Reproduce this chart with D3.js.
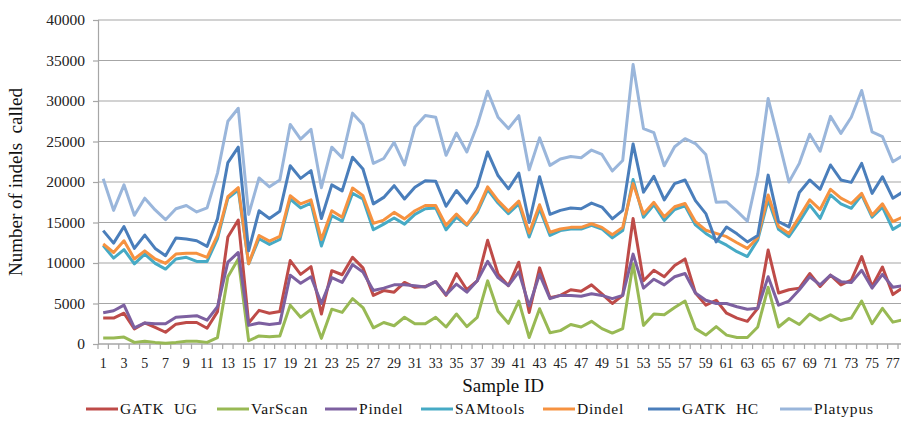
<!DOCTYPE html>
<html>
<head>
<meta charset="utf-8">
<script src="https://cdn.jsdelivr.net/npm/d3@7"></script>
<style>
  html, body { margin: 0; padding: 0; background: #fff; overflow: hidden; }
  svg { display: block; }
  svg text { font-family: "Liberation Serif", "Times New Roman", "DejaVu Serif", serif; }
</style>
</head>
<body>
<svg id="chart" width="901" height="425"></svg>
<script>
// Sample IDs 1..78
const samples = d3.range(1, 79);

const seriesNames = ["GATK  UG", "VarScan", "Pindel", "SAMtools", "Dindel", "GATK  HC", "Platypus"];
const seriesColors = ["#be4b48", "#98b954", "#7d60a0", "#46aac5", "#f69240", "#4a7ebb", "#9ab6db"];

const gatkUG = [3200,3200,3800,1850,2600,2050,1450,2450,2650,2650,1950,4000,13200,15300,2600,4150,3800,4000,10300,8600,
  9550,3700,9050,8550,10700,9400,6000,6600,6400,7600,7000,7100,7700,6000,8700,6700,7800,12800,8650,7200,
  10100,3900,9400,5700,6000,6700,6500,7300,6200,5000,6000,15500,7800,9100,8300,9700,10500,6300,4800,5400,
  3800,3200,2800,4400,11600,6300,6700,6900,8700,7100,8500,7300,7900,10800,7100,9500,6100,7000];

const varScan = [750,750,850,200,350,200,100,200,350,350,200,800,8300,10500,400,1000,900,1000,4800,3300,
  4250,700,4300,3900,5600,4500,2000,2650,2250,3300,2500,2500,3300,2100,3700,2150,3300,7800,4050,2550,
  5300,800,4350,1400,1650,2400,2100,2800,1900,1350,1900,9900,2300,3700,3600,4500,5300,1900,1100,2150,
  1100,800,800,2100,7000,2100,3150,2400,3700,2950,3600,2900,3200,5300,2500,4400,2700,3000];

const pindel = [3850,4100,4800,2000,2600,2500,2500,3300,3400,3500,2950,4600,10100,11300,2300,2600,2400,2550,8500,7500,
  8300,5000,8200,7600,9800,8900,6600,6900,7300,7300,7200,7050,7700,6100,7400,6400,7800,10200,8200,7200,
  8900,4700,8600,5600,6000,6000,5900,6200,6000,5600,6000,11100,6900,8000,7300,8300,8700,6300,5400,5000,
  5000,4600,4300,4400,8300,4800,5300,6700,8300,7300,8500,7700,7600,9100,6900,8600,7000,7200];

const samtools = [12150,10600,11650,9900,11100,9950,9250,10500,10700,10200,10200,13000,18000,19000,9900,13000,12300,12900,17900,16800,
  17400,12100,15850,15150,18600,17900,14100,14800,15550,14800,16000,16700,16800,14100,15650,14650,16250,19050,17400,16100,
  17300,13200,16700,13400,14000,14200,14200,14650,14200,13100,14000,20300,15650,17200,15250,16600,17050,14700,13650,12850,
  12200,11400,10800,12850,17800,14150,13250,15100,17150,15500,18400,17300,16750,18400,15650,16900,14150,14900];

const dindel = [12350,11300,12750,10500,11500,10500,9950,11100,11200,11200,10700,13400,18200,19300,9900,13400,12700,13300,18300,17300,
  17800,12900,16450,15650,19250,18300,14900,15300,16250,15450,16450,17100,17100,14650,16050,14750,16500,19400,17700,16400,
  17650,13700,17200,13800,14200,14400,14400,14850,14400,13500,14400,19800,16050,17500,15700,16950,17350,15100,14050,13650,
  13250,12500,11800,13150,18400,14500,13650,15700,17800,16600,19100,18000,17350,18600,15900,17300,15100,15700];

const gatkHC = [14000,12450,14500,11800,13450,11800,10900,13100,12950,12750,12050,15450,22400,24300,11500,16450,15500,16400,22000,20450,
  21400,15500,19650,18900,23050,21600,17300,18100,19550,17900,19350,20150,20100,17000,18950,17400,19450,23700,20800,19150,
  21100,15000,20650,16000,16500,16800,16700,17400,16900,15450,16500,24700,18750,20700,17800,19800,20250,17700,16100,12600,
  14450,13600,12600,13400,20850,15100,14450,18700,20250,19100,22100,20250,19950,22300,18600,20650,18000,18800];

const platypus = [20400,16500,19650,15900,18000,16550,15350,16700,17100,16300,16800,21100,27500,29100,16000,20500,19400,20250,27100,25300,
  26500,19300,24300,23000,28500,27100,22300,22900,24900,22100,26800,28200,28000,23300,26050,23700,27000,31200,28000,26600,
  28200,21500,25450,22050,22850,23150,23000,23950,23400,21350,22650,34500,26600,26100,22000,24350,25350,24750,23400,17500,
  17550,16400,15150,21000,30300,25200,20000,22300,25900,23800,28100,26000,28000,31300,26200,25600,22500,23300];

const seriesValues = [gatkUG, varScan, pindel, samtools, dindel, gatkHC, platypus];

const yTicks = [0, 5000, 10000, 15000, 20000, 25000, 30000, 35000, 40000];
const xLabels = samples.filter(d => d % 2 === 1 && d <= 77);

const serif = "'Liberation Serif', 'Times New Roman', 'DejaVu Serif', serif";
const svg = d3.select("#chart");

// plot area (the category axis runs on past the right edge of the page)
const plotLeft = 98, plotTop = 20, plotBottom = 344;
const bandW = 10.39;
const plotRight = plotLeft + samples.length * bandW;

const x = d3.scaleBand().domain(samples).range([plotLeft, plotRight]).paddingInner(0).paddingOuter(0);
const y = d3.scaleLinear().domain([0, 40000]).range([plotBottom, plotTop]);
const cx = d => x(d) + x.bandwidth() / 2;

// horizontal gridlines
svg.append("g")
  .selectAll("line")
  .data(yTicks)
  .join("line")
  .attr("x1", plotLeft).attr("x2", plotRight)
  .attr("y1", d => y(d)).attr("y2", d => y(d))
  .attr("stroke", "#a6a6a6").attr("stroke-width", 1.2);

// value axis
const yAxis = svg.append("g")
  .attr("transform", `translate(${plotLeft},0)`)
  .call(d3.axisLeft(y).tickValues(yTicks).tickSize(5).tickPadding(8).tickFormat(d3.format("d")));
yAxis.attr("font-family", serif);
yAxis.select(".domain").attr("stroke", "#a6a6a6").attr("stroke-width", 1.2);
yAxis.selectAll(".tick line").attr("stroke", "#a6a6a6").attr("stroke-width", 1.2);
yAxis.selectAll(".tick text")
  .attr("fill", "#222").attr("font-size", 15.5).attr("font-family", serif);

// category axis: line, boundary ticks, odd-numbered labels
const xAxis = svg.append("g");
xAxis.append("line")
  .attr("x1", plotLeft).attr("x2", plotRight)
  .attr("y1", plotBottom).attr("y2", plotBottom)
  .attr("stroke", "#a6a6a6").attr("stroke-width", 1.2);
xAxis.selectAll("line.tk")
  .data(samples)
  .join("line")
  .attr("class", "tk")
  .attr("x1", d => x(d) + x.bandwidth()).attr("x2", d => x(d) + x.bandwidth())
  .attr("y1", plotBottom).attr("y2", plotBottom + 5)
  .attr("stroke", "#a6a6a6").attr("stroke-width", 1.2);
xAxis.append("line")
  .attr("x1", plotLeft).attr("x2", plotLeft)
  .attr("y1", plotBottom).attr("y2", plotBottom + 5)
  .attr("stroke", "#a6a6a6").attr("stroke-width", 1.2);
xAxis.selectAll("text")
  .data(xLabels)
  .join("text")
  .attr("x", d => cx(d))
  .attr("y", 368)
  .attr("text-anchor", "middle")
  .attr("font-family", serif)
  .attr("font-size", 14)
  .attr("fill", "#222")
  .text(d => d);

// series lines
const line = d3.line()
  .x((d, i) => cx(samples[i]))
  .y(d => y(d));

svg.append("g")
  .selectAll("path")
  .data(seriesValues)
  .join("path")
  .attr("d", d => line(d))
  .attr("fill", "none")
  .attr("stroke", (d, i) => seriesColors[i])
  .attr("stroke-width", 3)
  .attr("stroke-linejoin", "round");

// axis titles
svg.append("text")
  .attr("x", (plotLeft + plotRight) / 2)
  .attr("y", 392)
  .attr("text-anchor", "middle")
  .attr("font-family", serif)
  .attr("font-size", 19)
  .attr("fill", "#111")
  .text("Sample ID");

svg.append("text")
  .attr("transform", `translate(22,${(plotTop + plotBottom) / 2}) rotate(-90)`)
  .attr("text-anchor", "middle")
  .attr("font-family", serif)
  .attr("font-size", 19)
  .attr("fill", "#111")
  .style("white-space", "pre")
  .text("Number of indels  called");

// legend
const legendX = [86, 217, 325, 421, 543, 648, 780];
const legend = svg.append("g")
  .selectAll("g")
  .data(seriesNames)
  .join("g")
  .attr("transform", (d, i) => `translate(${legendX[i]},414)`);
legend.append("line")
  .attr("x1", 0).attr("x2", 32).attr("y1", -5).attr("y2", -5)
  .attr("stroke", (d, i) => seriesColors[i]).attr("stroke-width", 3);
legend.append("text")
  .attr("x", 34).attr("y", 0)
  .attr("font-family", serif)
  .attr("font-size", 15.5)
  .attr("fill", "#111")
  .attr("letter-spacing", 0.8)
  .style("white-space", "pre")
  .text(d => d);
</script>
</body>
</html>
